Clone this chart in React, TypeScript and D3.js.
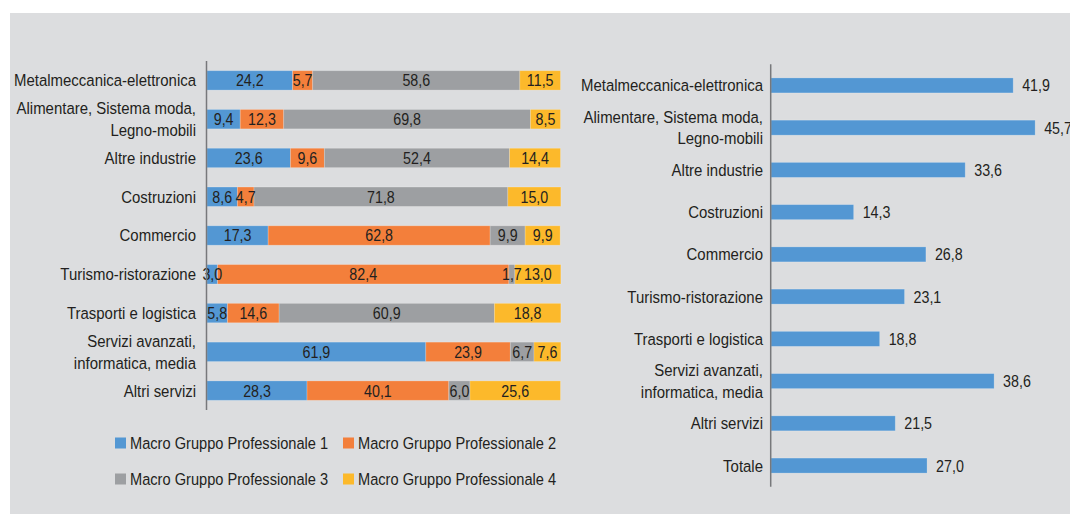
import React from "react";
import * as d3 from "d3";

const leftCategories = [
  "Metalmeccanica-elettronica",
  "Alimentare, Sistema moda,|Legno-mobili",
  "Altre industrie",
  "Costruzioni",
  "Commercio",
  "Turismo-ristorazione",
  "Trasporti e logistica",
  "Servizi avanzati,|informatica, media",
  "Altri servizi",
];
const mg1 = [24.2, 9.4, 23.6, 8.6, 17.3, 3.0, 5.8, 61.9, 28.3];
const mg2 = [5.7, 12.3, 9.6, 4.7, 62.8, 82.4, 14.6, 23.9, 40.1];
const mg3 = [58.6, 69.8, 52.4, 71.8, 9.9, 1.7, 60.9, 6.7, 6.0];
const mg4 = [11.5, 8.5, 14.4, 15.0, 9.9, 13.0, 18.8, 7.6, 25.6];
const seriesNames = [
  "Macro Gruppo Professionale 1",
  "Macro Gruppo Professionale 2",
  "Macro Gruppo Professionale 3",
  "Macro Gruppo Professionale 4",
];

const rightCategories = [...leftCategories, "Totale"];
const rightValues = [41.9, 45.7, 33.6, 14.3, 26.8, 23.1, 18.8, 38.6, 21.5, 27.0];

const COLORS = ["#5397d3", "#f37f3b", "#9d9fa2", "#fcb92b"];
const FONT = "'Liberation Sans', Arial, sans-serif";
const TEXT = "#231f20";
const FS = 17;
const SX = 0.88; // label horizontal condense
const SXN = 0.84; // number horizontal condense
const SXL = 0.86; // legend condense

const fmt = (v: number) => v.toFixed(1).replace(".", ",");

function T({
  x,
  y,
  anchor = "start",
  sx = SX,
  children,
}: {
  x: number;
  y: number;
  anchor?: string;
  sx?: number;
  children: React.ReactNode;
}) {
  return (
    <g transform={`translate(${x},${y}) scale(${sx},1)`}>
      <text
        x={0}
        y={0}
        dy="0.35em"
        textAnchor={anchor as any}
        fontSize={FS}
        fill={TEXT}
        fontFamily={FONT}
      >
        {children}
      </text>
    </g>
  );
}

function CatLabel({ x, y, label }: { x: number; y: number; label: string }) {
  const lines = label.split("|");
  const lh = 21.5;
  const y0 = y - ((lines.length - 1) * lh) / 2;
  return (
    <g>
      {lines.map((l, i) => (
        <T key={i} x={x} y={y0 + i * lh} anchor="end">
          {l}
        </T>
      ))}
    </g>
  );
}

export default function App() {
  const W = 1070;
  const H = 514;

  // left chart
  const series = [mg1, mg2, mg3, mg4];
  const xL = d3.scaleLinear().domain([0, 100]).range([207, 560.5]);
  const yL = d3
    .scaleBand<number>()
    .domain(d3.range(leftCategories.length))
    .range([61, 410])
    .paddingInner(0.5)
    .paddingOuter(0.25);
  const stackData = leftCategories.map((_, i) => ({
    i,
    s0: mg1[i],
    s1: mg2[i],
    s2: mg3[i],
    s3: mg4[i],
  }));
  const stack = d3.stack<any>().keys(["s0", "s1", "s2", "s3"])(stackData);

  // right chart
  const xR = d3.scaleLinear().domain([0, 50]).range([771, 771 + 50 * 5.78]);
  const yR = d3
    .scaleBand<number>()
    .domain(d3.range(rightCategories.length))
    .range([64.3, 486.7])
    .paddingInner(0.645)
    .paddingOuter(0.3225);

  const legendPos = [
    { x: 115, y: 443 },
    { x: 343, y: 443 },
    { x: 115, y: 479 },
    { x: 343, y: 479 },
  ];

  return (
    <svg
      width={W}
      height={H}
      style={{ position: "absolute", left: 0, top: 0, background: "#fff" }}
    >
      <rect x={10} y={13} width={W - 10} height={H - 13} fill="#dcdddf" />

      {/* left chart */}
      {stack.map((layer, si) => (
        <g key={si}>
          {layer.map((d, i) => {
            const x0 = xL(d[0]);
            const x1 = xL(d[1]);
            const y = yL(i)!;
            const h = yL.bandwidth();
            return (
              <rect
                key={i}
                x={x0}
                y={y}
                width={Math.max(0, x1 - x0)}
                height={h}
                fill={COLORS[si]}
                stroke="rgba(255,255,255,0.25)"
                strokeWidth={0.8}
              />
            );
          })}
        </g>
      ))}
      {stack.map((layer, si) => (
        <g key={"l" + si}>
          {layer.map((d, i) => {
            const x0 = xL(d[0]);
            const x1 = xL(d[1]);
            const y = yL(i)!;
            const h = yL.bandwidth();
            return (
              <T key={i} x={(x0 + x1) / 2} y={y + h / 2} anchor="middle" sx={SXN}>
                {fmt(series[si][i])}
              </T>
            );
          })}
        </g>
      ))}
      <line x1={206.5} x2={206.5} y1={61} y2={410} stroke="#77787b" strokeWidth={1.5} />
      {leftCategories.map((c, i) => (
        <CatLabel key={i} x={196} y={yL(i)! + yL.bandwidth() / 2} label={c} />
      ))}

      {/* legend */}
      {seriesNames.map((n, i) => (
        <g key={n}>
          <rect x={legendPos[i].x} y={legendPos[i].y - 5.5} width={11} height={11} fill={COLORS[i]} />
          <T x={legendPos[i].x + 15} y={legendPos[i].y} sx={SXL}>
            {n}
          </T>
        </g>
      ))}

      {/* right chart */}
      {rightValues.map((v, i) => {
        const y = yR(i)!;
        const h = yR.bandwidth();
        return (
          <g key={i}>
            <rect
              x={xR(0)}
              y={y}
              width={xR(v) - xR(0)}
              height={h}
              fill={COLORS[0]}
              stroke="rgba(255,255,255,0.25)"
              strokeWidth={0.8}
            />
            <T x={xR(v) + 9} y={y + h / 2} sx={SXN}>
              {fmt(v)}
            </T>
          </g>
        );
      })}
      <line x1={770.7} x2={770.7} y1={64.3} y2={486.7} stroke="#77787b" strokeWidth={1.5} />
      {rightCategories.map((c, i) => (
        <CatLabel key={i} x={763} y={yR(i)! + yR.bandwidth() / 2} label={c} />
      ))}
    </svg>
  );
}
